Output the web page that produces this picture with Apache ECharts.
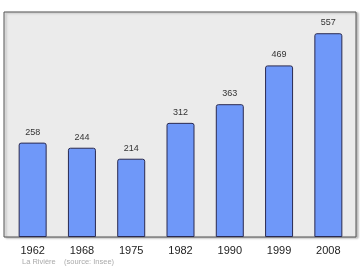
<!DOCTYPE html>
<html><head><meta charset="utf-8">
<script src="https://cdn.jsdelivr.net/npm/echarts@6/dist/echarts.min.js"></script>
<style>html,body{margin:0;padding:0;background:#fff}#c{width:360px;height:270px}</style>
</head><body><div id="c"></div>
<script>
const categories = ['1962','1968','1975','1982','1990','1999','2008'];
const population = [258, 244, 214, 312, 363, 469, 557];
const footer = 'La Rivière    (source: Insee)';

const chart = echarts.init(document.getElementById('c'), null, {renderer:'canvas'});
chart.setOption({
  animation:false,
  backgroundColor:'#ffffff',
  grid:[
    {left:8, right:7, top:12, bottom:33, show:false},
    {left:4, right:4, top:12, bottom:33, show:true, backgroundColor:'#ebebeb', borderColor:'#555', borderWidth:1, z:0,
     shadowColor:'rgba(0,0,0,0.25)', shadowBlur:2, shadowOffsetX:2, shadowOffsetY:1}
  ],
  xAxis:[
    {type:'category', data:categories, gridIndex:0, boundaryGap:true,
     axisLine:{show:false}, axisTick:{show:false},
     axisLabel:{color:'#222', fontSize:11, fontFamily:'Liberation Sans, Arial, sans-serif', margin:8}},
    {type:'value', gridIndex:1, show:false}
  ],
  yAxis:[
    {type:'value', gridIndex:0, min:0, max:615, show:false, splitLine:{show:false}},
    {type:'value', gridIndex:1, show:false}
  ],
  series:[{
    type:'bar', xAxisIndex:0, yAxisIndex:0, data:population, barWidth:28, z:3,
    itemStyle:{color:'#6f98f9', borderColor:'#2a2a50', borderWidth:1, borderRadius:[2,2,0,0]},
    label:{show:true, position:'top', distance:6, color:'#333', fontSize:9, fontFamily:'Liberation Sans, Arial, sans-serif'}
  }],
  graphic:[{type:'text', left:22, top:258, style:{text:footer, fill:'#aaa', fontSize:7.5, fontFamily:'Liberation Sans, Arial, sans-serif'}}]
});
</script></body></html>
